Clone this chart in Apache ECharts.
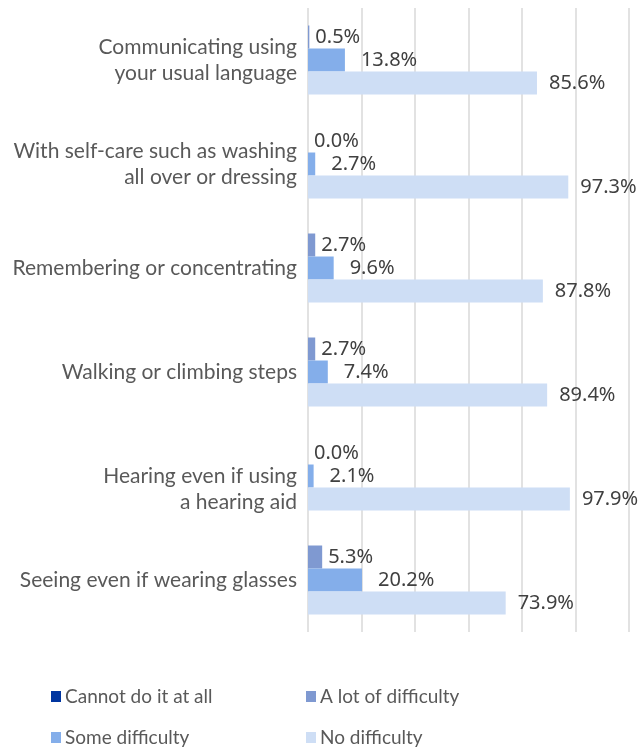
<!DOCTYPE html>
<html>
<head>
<meta charset="utf-8">
<script src="https://cdn.jsdelivr.net/npm/echarts@6/dist/echarts.min.js"></script>
<style>html,body{margin:0;padding:0;background:#fff;}#c{width:641px;height:749px;}</style>
</head>
<body>
<div id="c"></div>
<script>
const categories = [
  "Communicating using\nyour usual language",
  "With self-care such as washing\nall over or dressing",
  "Remembering or concentrating",
  "Walking or climbing steps",
  "\nHearing even if using\na hearing aid",
  "Seeing even if wearing glasses"
];
const seriesNames = ["Cannot do it at all", "A lot of difficulty", "Some difficulty", "No difficulty"];
const cannotDo = [];
const aLot = [0.5, 0.0, 2.7, 2.7, 0.0, 5.3];
const some = [13.8, 2.7, 9.6, 7.4, 2.1, 20.2];
const noDiff = [85.6, 97.3, 87.8, 89.4, 97.9, 73.9];
const xTicks = [0, 20, 40, 60, 80, 100, 120];

const colors = ["#0035A0", "#7F99D1", "#84AEEA", "#CEDEF5"];
const labelFont = "'Noto Sans', sans-serif";
const textFont = "Lato, sans-serif";

function lbl(dist) {
  return {
    show: true, position: "right", distance: dist,
    color: "#404040", fontFamily: labelFont, fontSize: 20,
    formatter: p => p.value.toFixed(1) + "%"
  };
}

function leg(name, left, top) {
  return {
    data: [name], orient: "horizontal", left: left, top: top,
    itemWidth: 10, itemHeight: 11, itemGap: 0, icon: "rect",
    textStyle: {color: "#595959", fontFamily: textFont, fontSize: 19, padding: [0, 0, 0, -1]}
  };
}

const chart = echarts.init(document.getElementById("c"), null, {renderer: "canvas"});
chart.setOption({
  animation: false,
  backgroundColor: "#fff",
  grid: {left: 308, right: 12, top: 8, bottom: 117, containLabel: false},
  xAxis: {
    type: "value", min: xTicks[0], max: xTicks[xTicks.length - 1], interval: 20,
    axisLabel: {show: false}, axisLine: {show: false}, axisTick: {show: false},
    splitLine: {show: true, lineStyle: {color: "#D9D9D9", width: 1.5}}
  },
  yAxis: {
    type: "category", data: categories, inverse: true,
    axisLine: {show: false}, axisTick: {show: false},
    axisLabel: {color: "#595959", fontFamily: textFont, fontSize: 21, lineHeight: 26, margin: 11, align: "right"}
  },
  legend: [
    leg(seriesNames[0], 46, 682),
    leg(seriesNames[1], 301, 682),
    leg(seriesNames[2], 46, 723),
    leg(seriesNames[3], 301, 723)
  ],
  series: [
    {name: seriesNames[0], type: "bar", stack: "a", data: cannotDo, barWidth: 23, barGap: "0%", itemStyle: {color: colors[0]}},
    {name: seriesNames[1], type: "bar", stack: "a", data: aLot, barWidth: 23, barGap: "0%", itemStyle: {color: colors[1]}, label: lbl(6)},
    {name: seriesNames[2], type: "bar", data: some, barWidth: 23, barGap: "0%", itemStyle: {color: colors[2]}, label: lbl(16)},
    {name: seriesNames[3], type: "bar", data: noDiff, barWidth: 23, barGap: "0%", itemStyle: {color: colors[3]}, label: lbl(12)}
  ]
});
</script>
</body>
</html>
